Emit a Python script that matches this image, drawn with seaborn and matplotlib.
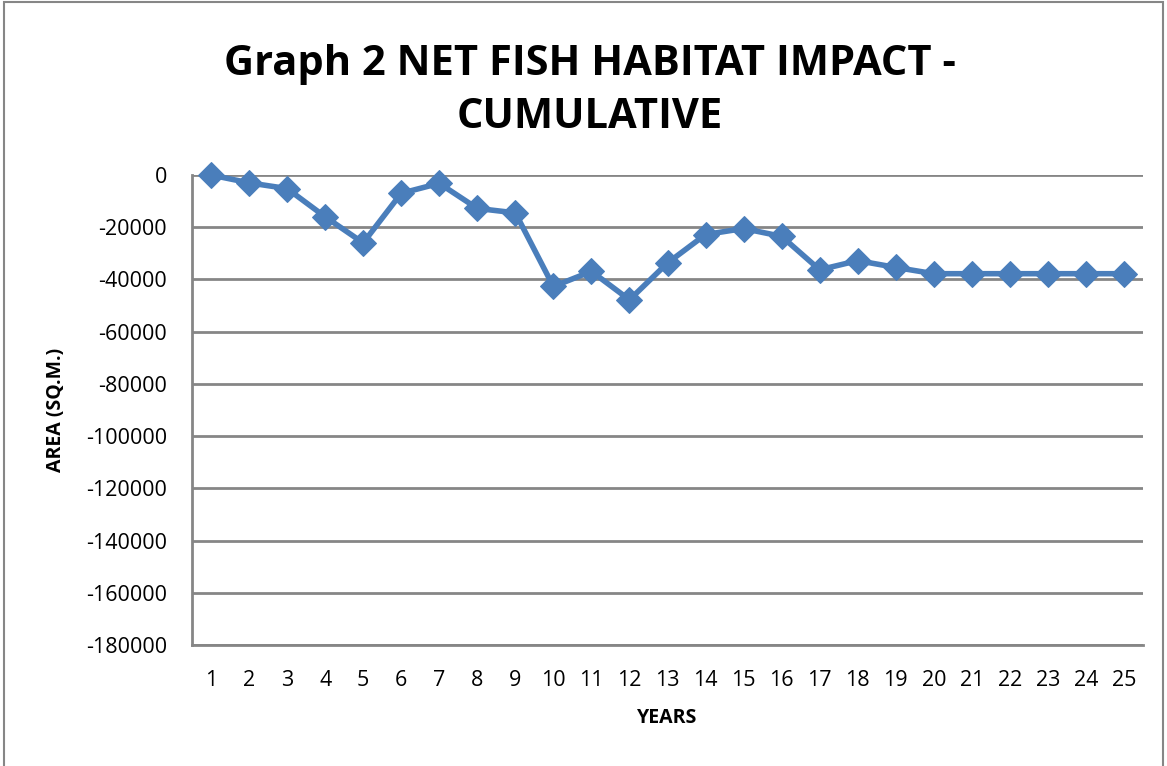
import matplotlib
matplotlib.use("Agg")
import matplotlib.pyplot as plt
import seaborn as sns
import pandas as pd
from matplotlib.patches import Rectangle

years = list(range(1, 26))
area = [0, -3000, -5200, -16000, -26000, -7000, -3200, -12800, -14500, -42700,
        -36900, -47800, -33700, -22800, -20500, -23500, -36300, -32800, -35400, -37800,
        -37800, -37800, -37800, -37800, -37800]
yticks = list(range(-180000, 1, 20000))

df = pd.DataFrame({"YEARS": years, "AREA": area})

sns.set_style("white")
plt.rcParams["font.family"] = ["Open Sans", "DejaVu Sans"]
plt.rcParams["text.color"] = "black"
plt.rcParams["xtick.color"] = "black"
plt.rcParams["ytick.color"] = "black"
plt.rcParams["axes.labelcolor"] = "black"

fig = plt.figure(figsize=(11.67, 7.66), dpi=100)
ax = fig.add_axes([192 / 1167, 1 - 645 / 766, (1143 - 192) / 1167, 470 / 766])

grid_col = "#868686"
sns.lineplot(data=df, x="YEARS", y="AREA", ax=ax, color="#4A7EBB", linewidth=4,
             marker="D", markersize=13, markeredgecolor="#4A7EBB", clip_on=False, zorder=5)

ax.set_xlim(0.5, 25.5)
ax.set_ylim(-180000, 0)
ax.set_yticks(yticks)
ax.set_yticklabels([str(v) for v in yticks], fontsize=15.5)
ax.set_xticks(years)
ax.set_xticklabels([str(y) for y in years], fontsize=15.5)
ax.set_xticks([y - 0.5 for y in years] + [25.5], minor=True)
ax.tick_params(axis="x", which="major", length=0, pad=18)
ax.tick_params(axis="x", which="minor", length=8, width=2, color=grid_col, direction="out")
ax.tick_params(axis="y", length=8, width=2, color=grid_col, direction="out", pad=10,
               labelcolor="black")

ax.grid(axis="y", color=grid_col, linewidth=2)
ax.set_axisbelow(True)
for s in ["top", "right"]:
    ax.spines[s].set_visible(False)
for s in ["left", "bottom"]:
    ax.spines[s].set_color(grid_col)
    ax.spines[s].set_linewidth(2)

ax.set_xlabel("YEARS", fontsize=14, fontweight="bold", labelpad=12)
ax.set_ylabel("AREA (SQ.M.)", fontsize=14, fontweight="bold", labelpad=14)

fig.text(590 / 1167, 1 - 91 / 766, "Graph 2 NET FISH HABITAT IMPACT -\nCUMULATIVE",
         ha="center", va="center", fontsize=30, fontweight="bold", linespacing=1.4,
         color="black")

fig.patches.append(Rectangle((4 / 1167, -0.01), 1159 / 1167, 1.0 - 2 / 766 + 0.01,
                             transform=fig.transFigure, fill=False,
                             edgecolor=grid_col, linewidth=1.5))

fig.savefig("out.png", dpi=100)
